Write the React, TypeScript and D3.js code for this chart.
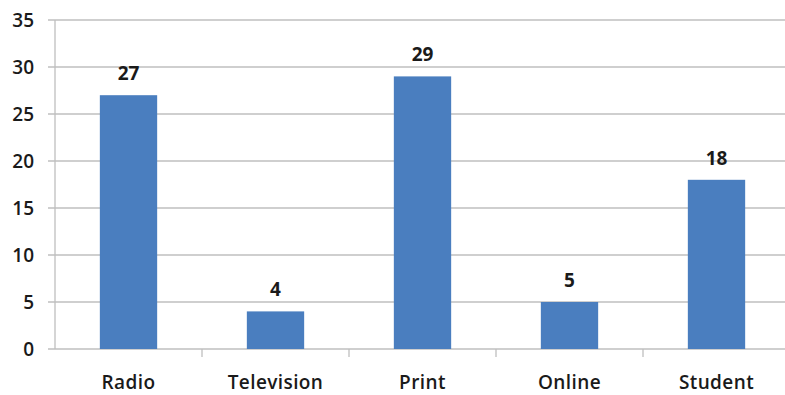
import React from "react";
import * as d3 from "d3";

const categories = ["Radio", "Television", "Print", "Online", "Student"];
const values = [27, 4, 29, 5, 18];
const yTicks = [0, 5, 10, 15, 20, 25, 30, 35];

const W = 785;
const H = 395;
const left = 55;
const right = 790;
const top = 20;
const bottom = 349;
const FONT = "'Open Sans', 'Liberation Sans', sans-serif";

export default function App() {
  const x = d3.scaleBand<string>().domain(categories).range([left, right]).paddingInner(0.61).paddingOuter(0.305);
  const xb = d3.scaleBand<string>().domain(categories).range([left, right]);
  const y = d3.scaleLinear().domain([0, 35]).range([bottom, top]);
  const gridColor = "#bfbfbf";
  return (
    <svg width={W} height={H} style={{ position: "absolute", left: 0, top: 0, background: "#fff" }}>
      {yTicks.map((t) => (
        <g key={t}>
          <line x1={48} x2={W} y1={y(t)} y2={y(t)} stroke={gridColor} strokeWidth={1.3} />
          <text x={34} y={y(t)} dy="0.36em" textAnchor="end" fontFamily={FONT} fontSize={19} fontWeight={600} fill="#1a1a1a">
            {t}
          </text>
        </g>
      ))}
      <line x1={left} x2={left} y1={top} y2={bottom} stroke={gridColor} strokeWidth={1.3} />
      {categories.slice(1).map((c) => (
        <line key={c} x1={xb(c)!} x2={xb(c)!} y1={bottom} y2={bottom + 8} stroke={gridColor} strokeWidth={1.3} />
      ))}
      {categories.map((c, i) => (
        <g key={c}>
          <rect x={x(c)!} y={y(values[i])} width={x.bandwidth()} height={bottom - y(values[i])} fill="#4A7EBF" />
          <text x={x(c)! + x.bandwidth() / 2} y={y(values[i]) - 15} textAnchor="middle" fontFamily={FONT} fontSize={19} fontWeight={700} fill="#1a1a1a">
            {values[i]}
          </text>
          <text x={xb(c)! + xb.bandwidth() / 2} y={389} textAnchor="middle" fontFamily={FONT} fontSize={19} fontWeight={600} letterSpacing={0.4} fill="#1a1a1a">
            {c}
          </text>
        </g>
      ))}
    </svg>
  );
}
